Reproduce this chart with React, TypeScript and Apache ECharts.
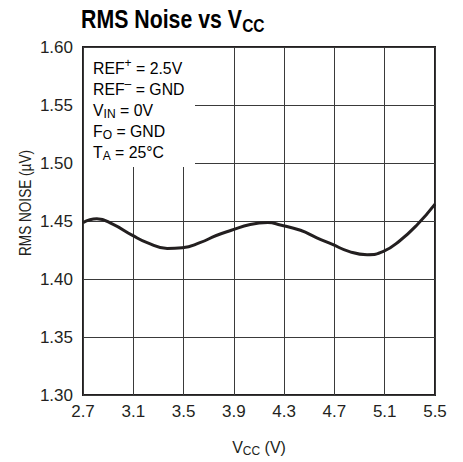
import React, { useEffect, useRef } from "react";
import * as echarts from "echarts";

const vcc = [2.7, 2.81, 2.94, 3.09, 3.21, 3.37, 3.49, 3.63, 3.76, 3.88, 4.03, 4.17, 4.27, 4.43, 4.56, 4.68, 4.82, 4.96, 5.09, 5.22, 5.36, 5.5];
const rmsNoise = [1.4486, 1.452, 1.447, 1.4378, 1.4313, 1.4264, 1.427, 1.4313, 1.4375, 1.442, 1.447, 1.4486, 1.4466, 1.442, 1.4355, 1.43, 1.4236, 1.421, 1.4238, 1.433, 1.447, 1.4646];

const xMin = 2.7;
const xMax = 5.5;
const xStep = 0.4;
const yMin = 1.3;
const yMax = 1.6;
const yStep = 0.05;

const conditionLines = [
  "{m|REF}{sup|+}{m| = 2.5V}",
  "{m|REF}{sup|–}{m| = GND}",
  "{m|V}{sub|IN}{m| = 0V}",
  "{m|F}{sub|O}{m| = GND}",
  "{m|T}{sub|A}{m| = 25°C}",
];

const FONT = "'Liberation Sans', Arial, Helvetica, sans-serif";
const INK = "#231f20";

const richStyles = (size: number, subSize: number, bold = false) => ({
  m: { fontSize: size, fontFamily: FONT, color: INK, fontWeight: bold ? "bold" : "normal" },
  sub: { fontSize: subSize, fontFamily: FONT, color: INK, fontWeight: bold ? "bold" : "normal", padding: [Math.round(size * 0.45), 0, 0, 0] },
  sup: { fontSize: subSize, fontFamily: FONT, color: INK, padding: [0, 0, Math.round(size * 0.6), 0] },
});

export default function App() {
  const ref = useRef<HTMLDivElement>(null);
  useEffect(() => {
    if (!ref.current) return;
    const chart = echarts.init(ref.current, null, { renderer: "svg" });
    const data = vcc.map((v, i) => [v, rmsNoise[i]]);
    const graphics: any[] = [
      {
        type: "text",
        x: 81,
        y: 19,
        scaleX: 0.82,
        z: 100,
        style: {
          text: "{m|RMS Noise vs V}{sub|CC}",
          rich: richStyles(26, 19, true),
          verticalAlign: "middle",
          align: "left",
        },
      },
      {
        type: "rect",
        shape: { x: 84, y: 48, width: 111, height: 119 },
        style: { fill: "#ffffff" },
        z: 50,
      },
      {
        type: "text",
        x: 25,
        y: 203,
        rotation: Math.PI / 2,
        scaleX: 0.8,
        z: 100,
        style: {
          text: "RMS NOISE (µV)",
          fontSize: 17,
          fontFamily: FONT,
          fill: INK,
          align: "center",
          verticalAlign: "middle",
        },
      },
    ];
    conditionLines.forEach((t, i) => {
      graphics.push({
        type: "text",
        x: 93,
        y: 68 + i * 21,
        scaleX: 0.93,
        z: 100,
        style: {
          text: t,
          rich: richStyles(17, 13),
          verticalAlign: "middle",
          align: "left",
        },
      });
    });
    chart.setOption({
      animation: false,
      backgroundColor: "#ffffff",
      grid: {
        left: 83,
        right: 28,
        top: 47,
        bottom: 63,
        show: true,
        borderColor: INK,
        borderWidth: 2,
        backgroundColor: "transparent",
      },
      xAxis: {
        type: "value",
        min: xMin,
        max: xMax,
        interval: xStep,
        name: "{m|V}{sub|CC}{m| (V)}",
        nameLocation: "middle",
        nameGap: 43,
        nameTextStyle: { rich: richStyles(16, 12) },
        axisLine: { show: false },
        axisTick: { show: false },
        axisLabel: {
          fontSize: 17,
          fontFamily: FONT,
          color: INK,
          margin: 8,
          formatter: (v: number) => v.toFixed(1),
        },
        splitLine: { show: true, lineStyle: { color: "#3a3a3a", width: 1 } },
      },
      yAxis: {
        type: "value",
        min: yMin,
        max: yMax,
        interval: yStep,
        axisLine: { show: false },
        axisTick: { show: false },
        axisLabel: {
          fontSize: 17,
          fontFamily: FONT,
          color: INK,
          margin: 10,
          formatter: (v: number) => v.toFixed(2),
        },
        splitLine: { show: true, lineStyle: { color: "#3a3a3a", width: 1 } },
      },
      series: [
        {
          type: "line",
          data,
          smooth: 0.5,
          showSymbol: false,
          lineStyle: { color: INK, width: 3 },
          z: 10,
        },
      ],
      graphic: graphics,
    });
    return () => chart.dispose();
  }, []);
  return (
    <div
      ref={ref}
      style={{ position: "absolute", left: 0, top: 0, width: 463, height: 462, background: "#fff" }}
    />
  );
}
